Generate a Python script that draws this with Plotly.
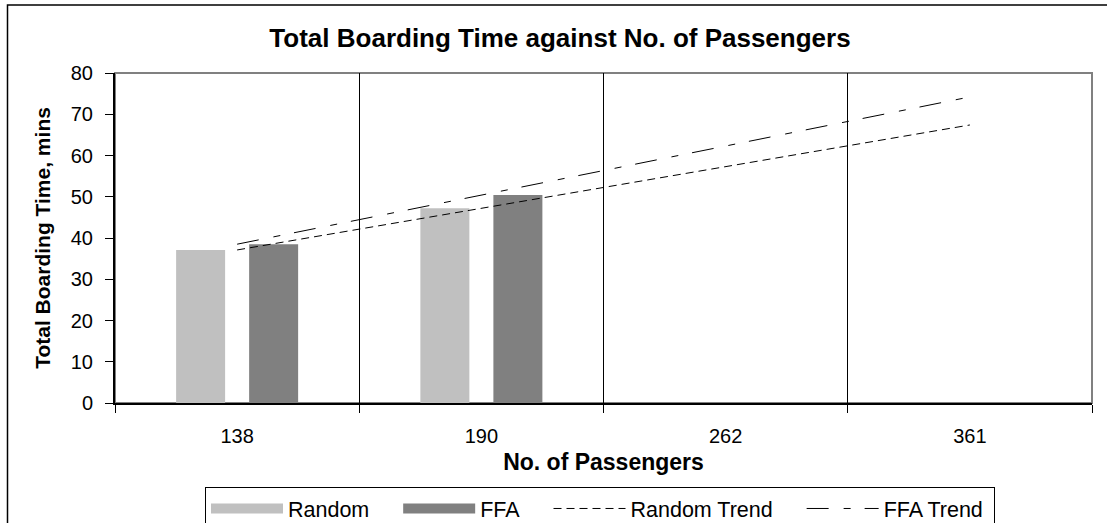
import numpy as np
import plotly.graph_objects as go

# Passenger counts (category axis) and total boarding times in minutes
passengers = ["138", "190", "262", "361"]
random_times = [37.1, 47.2, None, None]
ffa_times = [38.5, 50.4, None, None]

y_ticks = [0, 10, 20, 30, 40, 50, 60, 70, 80]

RANDOM_GREY = "#C0C0C0"
FFA_GREY = "#808080"

# non-breaking spaces widen the gap between legend entries
PAD = "\u00a0" * 4


def linear_trend(values):
    """Least-squares straight line over category positions 1..n, extended across all categories."""
    pos = np.arange(1, len(values) + 1)
    known = [(p, v) for p, v in zip(pos, values) if v is not None]
    kx = np.array([k[0] for k in known], dtype=float)
    ky = np.array([k[1] for k in known], dtype=float)
    slope, intercept = np.polyfit(kx, ky, 1)
    return list(slope * pos + intercept)


random_trend = linear_trend(random_times)
ffa_trend = linear_trend(ffa_times)

FONT = "Liberation Sans, Arial, sans-serif"

fig = go.Figure()
fig.add_trace(go.Bar(x=passengers, y=random_times, name="Random", legendgroup="random",
                     showlegend=False, marker=dict(color=RANDOM_GREY, line=dict(width=0))))
fig.add_trace(go.Bar(x=passengers, y=ffa_times, name="FFA", legendgroup="ffa",
                     showlegend=False, marker=dict(color=FFA_GREY, line=dict(width=0))))
# wide legend swatches for the two bar series
fig.add_trace(go.Scatter(x=[None], y=[None], name="Random" + PAD, legendgroup="random",
                         mode="lines", line=dict(color=RANDOM_GREY, width=15), hoverinfo="skip"))
fig.add_trace(go.Scatter(x=[None], y=[None], name="FFA" + PAD, legendgroup="ffa",
                         mode="lines", line=dict(color=FFA_GREY, width=15), hoverinfo="skip"))
fig.add_trace(go.Scatter(x=passengers, y=random_trend, name="Random Trend" + PAD, mode="lines",
                         line=dict(color="black", width=1, dash="8px,5px")))
fig.add_trace(go.Scatter(x=passengers, y=ffa_trend, name="FFA Trend\u00a0", mode="lines",
                         line=dict(color="black", width=1, dash="22px,15px,7px,14px")))

W, H = 1107, 523
ML, MR, MT, MB = 115, 15, 73, 120
pw, ph = W - ML - MR, H - MT - MB


def px_x(x):
    return (x - ML) / pw


def px_y(y):
    return (H - MB - y) / ph


fig.update_layout(
    width=W, height=H,
    margin=dict(l=ML, r=MR, t=MT, b=MB, autoexpand=False),
    paper_bgcolor="white", plot_bgcolor="white",
    font=dict(family=FONT, size=20, color="black"),
    title=dict(text="<b>Total Boarding Time against No. of Passengers</b>",
               x=560 / W, xref="container", xanchor="center",
               y=1 - 38 / H, yref="container", yanchor="middle",
               font=dict(family=FONT, size=26, color="black")),
    barmode="group", bargap=0.402, bargroupgap=0.329,
    showlegend=True,
    legend=dict(orientation="h", x=px_x(600), xanchor="center",
                y=px_y(487), yanchor="top",
                bordercolor="black", borderwidth=1, bgcolor="white",
                font=dict(family=FONT, size=21.5, color="black"),
                itemwidth=72, traceorder="normal", tracegroupgap=0),
    xaxis=dict(type="category", categoryorder="array", categoryarray=passengers,
               range=[-0.5, 3.5], tickson="boundaries",
               showgrid=True, gridcolor="black", gridwidth=1,
               showline=True, linecolor="black", linewidth=2,
               ticks="outside", ticklen=8, tickcolor="black", tickwidth=1,
               ticklabelstandoff=14,
               tickfont=dict(family=FONT, size=20, color="black"),
               title=dict(text="<b>No. of Passengers</b>", standoff=8,
                          font=dict(family=FONT, size=23, color="black")),
               zeroline=False, fixedrange=True),
    yaxis=dict(range=[0, 80], tickmode="array", tickvals=y_ticks,
               showgrid=False, zeroline=False,
               showline=True, linecolor="black", linewidth=2,
               ticks="outside", ticklen=8, tickcolor="black", tickwidth=1,
               ticklabelstandoff=8,
               tickfont=dict(family=FONT, size=20, color="black"),
               title=dict(text="<b>Total Boarding Time, mins</b>", standoff=14,
                          font=dict(family=FONT, size=21, color="black")),
               fixedrange=True),
    shapes=[
        # plot-area frame (grey), drawn under the axis lines
        dict(type="rect", xref="paper", yref="paper", x0=0, x1=1, y0=0, y1=1,
             line=dict(color="#808080", width=2), layer="below"),
        # chart-area border
        dict(type="rect", xref="paper", yref="paper",
             x0=px_x(7.5), x1=px_x(1115), y0=px_y(530), y1=px_y(5),
             line=dict(color="black", width=1.5), layer="below"),
    ],
)

fig.write_html("out.html")
